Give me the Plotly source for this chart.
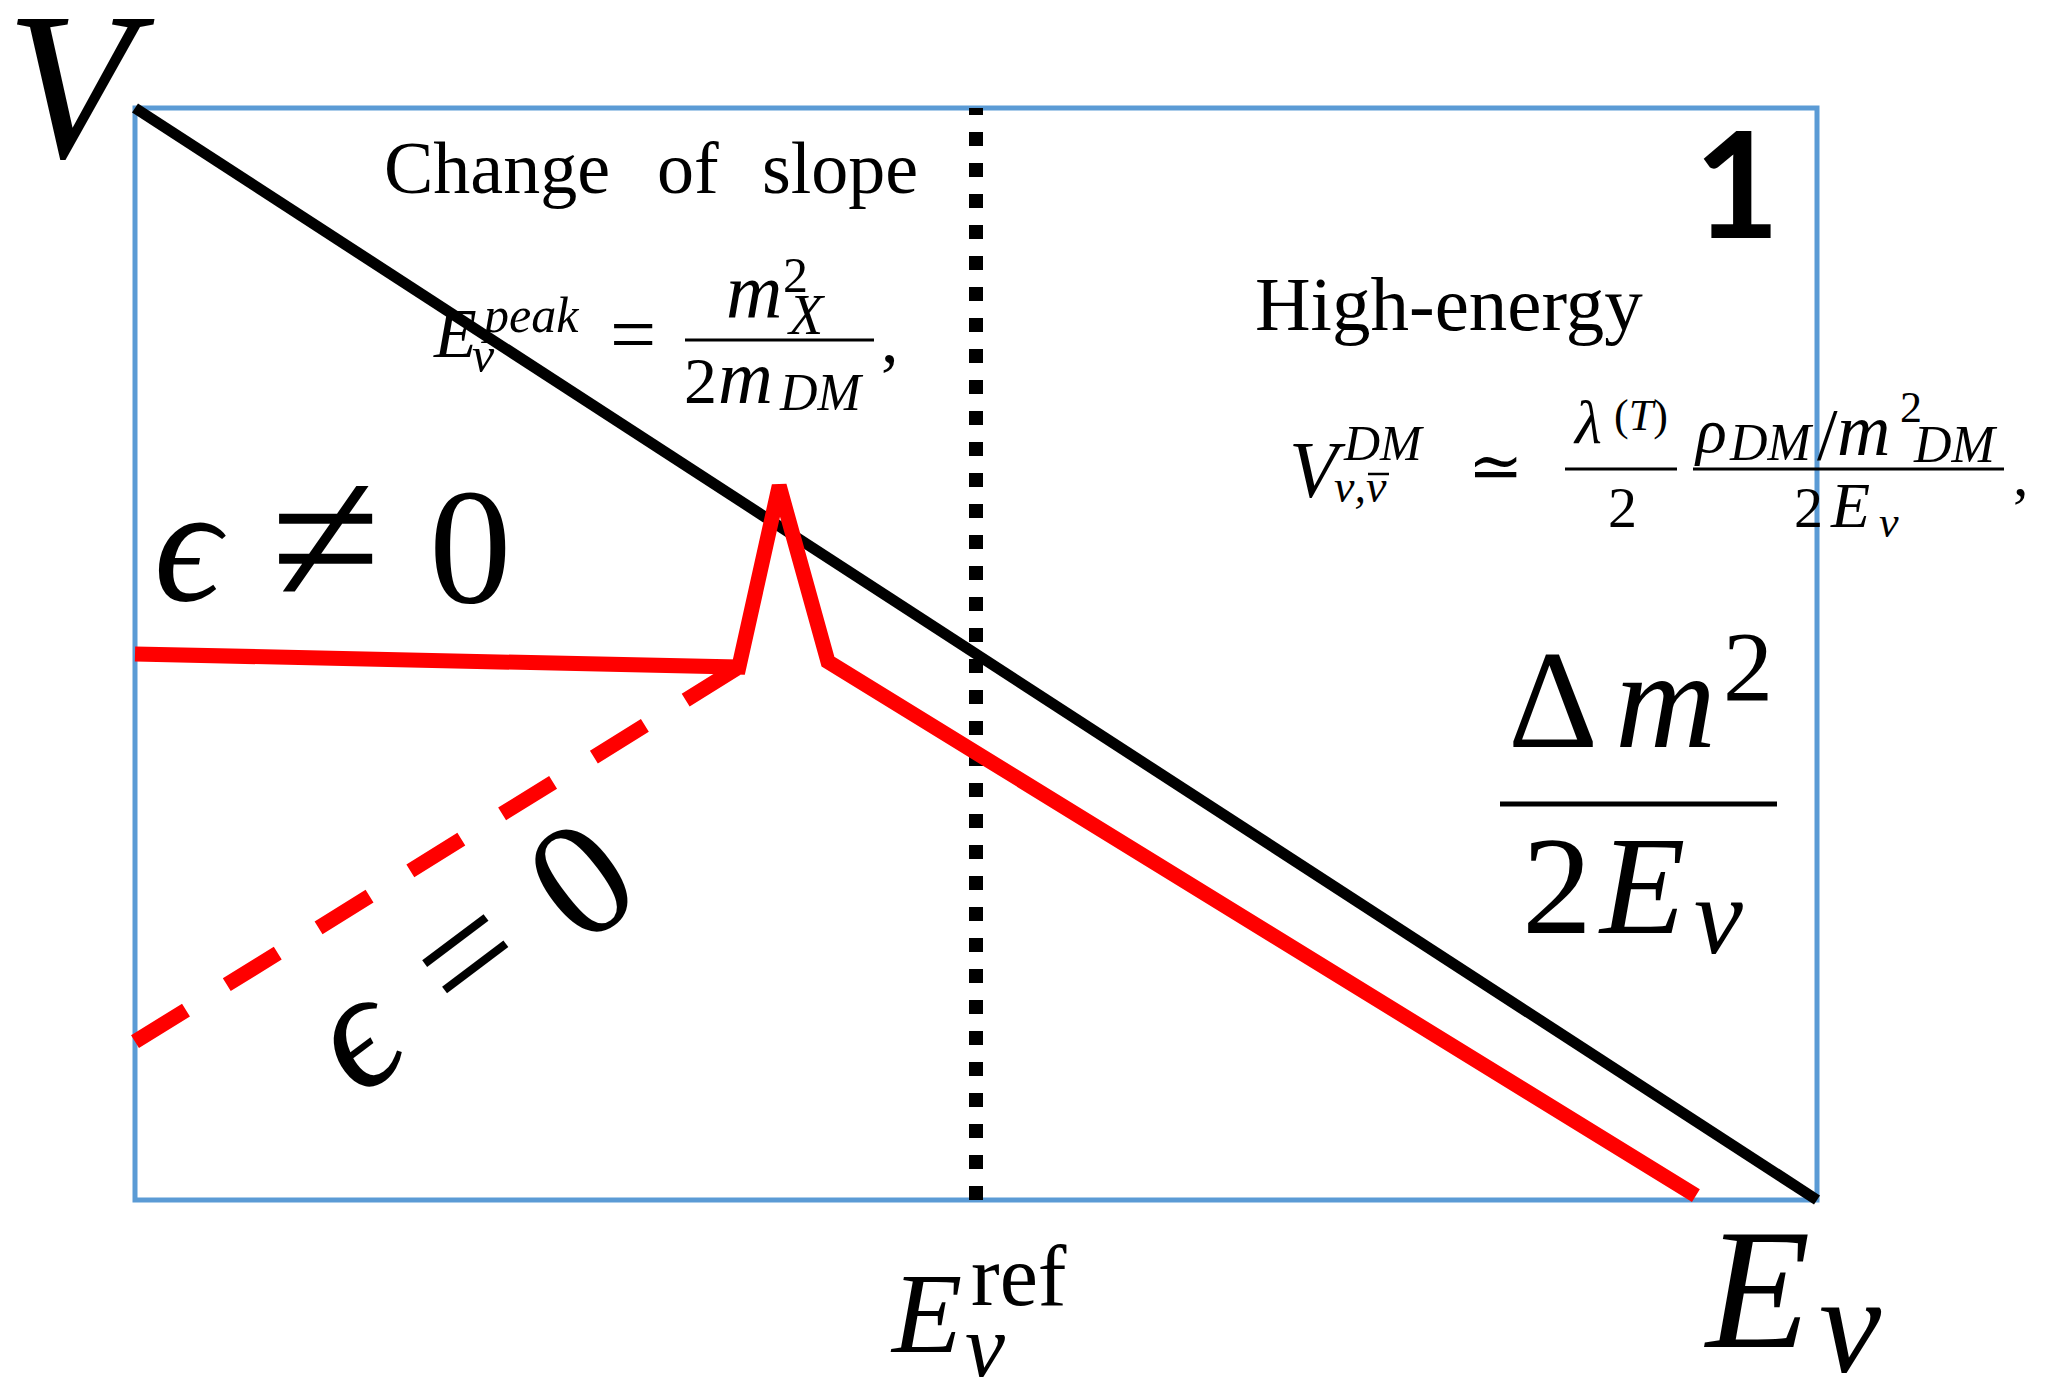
import plotly.graph_objects as go

# Schematic potential vs. neutrino energy (arbitrary units, box spans 0..1 on both axes)
e_vac = [0.0, 1.0]            # Delta m^2 / 2E curve
v_vac = [1.0, 0.0]
e_eps = [0.0, 0.359, 0.383, 0.412, 0.928]   # epsilon != 0 (with resonance peak)
v_eps = [0.500, 0.488, 0.654, 0.493, 0.004]
e_eps0 = [0.0, 0.359]         # epsilon = 0 branch
v_eps0 = [0.145, 0.488]
e_ref = [0.5, 0.5]            # reference energy marker
v_ref = [0.0, 1.0]

# pixel geometry of the frame
W, H = 2050, 1377
X0, X1, Y0, Y1 = 135, 1817, 108, 1200
PAD = 50
BW, BH = X1 - X0, Y1 - Y0
PL, PT = X0 - PAD, Y0 - PAD          # plot-area origin in pixels
PW, PH = BW + 2 * PAD, BH + 2 * PAD  # plot-area size in pixels

SERIF = "Liberation Serif, DejaVu Serif, serif"
BLUE = "#5b9bd5"


def px2paper(px):
    return (px - PL) / PW


def py2paper(py):
    return (PT + PH - py) / PH


fig = go.Figure()

fig.add_trace(go.Scatter(x=e_ref, y=v_ref, mode="lines",
                         line=dict(color="black", width=14, dash="14px,17px")))
fig.add_trace(go.Scatter(x=e_vac, y=v_vac, mode="lines",
                         line=dict(color="black", width=11)))
fig.add_trace(go.Scatter(x=e_eps0, y=v_eps0, mode="lines",
                         line=dict(color="#ff0000", width=15, dash="60px,48px")))
fig.add_trace(go.Scatter(x=e_eps, y=v_eps, mode="lines",
                         line=dict(color="#ff0000", width=15)))

# frame
fig.add_shape(type="rect", x0=0, x1=1, y0=0, y1=1, xref="x", yref="y",
              line=dict(color=BLUE, width=5), layer="below")


def put(s, px, base, size, italic=False, family=SERIF, asc=0.891, desc=0.216):
    """Place a text fragment horizontally centred at px with its baseline at pixel row base."""
    mid = base - (asc - desc) / 2 * size
    txt = f"<i>{s}</i>" if italic else s
    fig.add_annotation(x=px2paper(px), y=py2paper(mid), xref="paper", yref="paper",
                       text=txt, showarrow=False, xanchor="center", yanchor="middle",
                       borderpad=0, font=dict(family=family, size=size, color="black"))


def put_rot(s, px, py, size, angle, italic=False, family=SERIF):
    """Rotated fragment whose text box is centred at (px, py)."""
    txt = f"<i>{s}</i>" if italic else s
    fig.add_annotation(x=px2paper(px), y=py2paper(py), xref="paper", yref="paper",
                       text=txt, showarrow=False, xanchor="center", yanchor="middle",
                       textangle=angle, borderpad=0,
                       font=dict(family=family, size=size, color="black"))


def bar(px0, px1, py, width=3):
    fig.add_shape(type="line", x0=px2paper(px0), x1=px2paper(px1),
                  y0=py2paper(py), y1=py2paper(py), xref="paper", yref="paper",
                  line=dict(color="black", width=width))


# axis letters
put("V", 80, 157, 210, italic=True)
put("E", 1757, 1347, 171, italic=True)
put("ν", 1850, 1372, 140, italic=True)
put("E", 926, 1352, 115, italic=True)
put("ref", 1019, 1305, 86)
put("ν", 985, 1377, 90, italic=True)

# region titles
put("Change", 497, 193, 74)
put("of", 688, 193, 74)
put("slope", 840, 193, 74)
put("High-energy", 1449, 330, 77)
put("<b>1</b>", 1737, 238, 148, family="Lato, sans-serif", asc=0.987, desc=0.213)

# E_nu^peak = m_X^2 / 2 m_DM ,
put("E", 455, 357, 70, italic=True)
put("peak", 530, 332, 50, italic=True)
put("ν", 483, 372, 50, italic=True)
put("=", 633, 362, 82)
put("m", 754, 318, 78, italic=True)
put("2", 795, 292, 50)
put("X", 806, 334, 56, italic=True)
bar(685, 874, 340)
put("2", 700, 403, 66)
put("m", 745, 403, 76, italic=True)
put("DM", 821, 410, 52, italic=True)
put(",", 890, 362, 70)

# V^DM_{nu,nubar} ~ lambda^(T)/2 * (rho_DM/m_DM^2)/(2E_nu) ,
put("V", 1317, 497, 80, italic=True)
put("DM", 1383, 460, 50, italic=True)
put("ν,ν", 1360, 502, 46, italic=True)
bar(1368, 1389, 474, width=2.5)
put("≃", 1495, 489, 66)
put("λ", 1587, 443, 62, italic=True)
put("(<i>T</i>)", 1641, 430, 44)
bar(1565, 1677, 469)
put("2", 1622, 527, 58)
put("ρ", 1710, 452, 64, italic=True)
put("DM", 1771, 460, 52, italic=True)
put("/", 1827, 460, 74)
put("m", 1863, 455, 74, italic=True)
put("2", 1911, 422, 44)
put("DM", 1955, 462, 52, italic=True)
bar(1693, 2004, 469)
put("2", 1808, 527, 58)
put("E", 1850, 527, 64, italic=True)
put("ν", 1889, 537, 44, italic=True)
put(",", 2021, 495, 62)

# Delta m^2 / 2 E_nu
put("Δ", 1553, 747, 140)
put("m", 1665, 747, 140, italic=True)
put("2", 1748, 700, 100)
bar(1500, 1777, 804, width=5)
put("2", 1557, 933, 140)
put("E", 1642, 933, 140, italic=True)
put("ν", 1718, 953, 110, italic=True)

# epsilon labels
put("ϵ", 190, 600, 165, italic=True)
put("≠", 326, 605, 200)
put("0", 470, 602, 165)
put_rot("ϵ", 354, 1032, 165, -37, italic=True)
put_rot("=", 464, 953, 165, -37)
put_rot("0", 580, 879, 165, -37)

fig.update_xaxes(visible=False, range=[-PAD / BW, 1 + PAD / BW])
fig.update_yaxes(visible=False, range=[-PAD / BH, 1 + PAD / BH])
fig.update_layout(
    width=W, height=H, autosize=False, showlegend=False,
    margin=dict(l=PL, r=W - PL - PW, t=PT, b=H - PT - PH, pad=0),
    paper_bgcolor="white", plot_bgcolor="white",
)

fig.write_html("out.html")
